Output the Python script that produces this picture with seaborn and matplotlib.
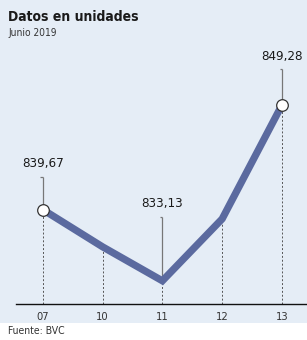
import matplotlib
matplotlib.use("Agg")
import matplotlib.pyplot as plt
import matplotlib.patches as mpatches
import seaborn as sns
import pandas as pd

days = ["07", "10", "11", "12", "13"]
values = [839.67, 836.25, 833.13, 838.82, 849.28]
labels = {0: "839,67", 2: "833,13", 4: "849,28"}
label_offset = [3.6, None, 6.5, None, 3.9]

sns.set_theme(style="white")
plt.rcParams["font.family"] = ["DejaVu Sans"]
plt.rcParams["font.stretch"] = "condensed"

BG = "#e5edf6"
LINE = "#5b6a9f"

fig = plt.figure(figsize=(3.07, 3.40), dpi=100, facecolor="white")
fig.patches.append(mpatches.Rectangle((0, 17 / 340), 1, 1 - 17 / 340, transform=fig.transFigure,
                                      facecolor=BG, edgecolor="none", zorder=-10))
ax = fig.add_axes([16 / 307, 36 / 340, 1 - 16 / 307, (304 - 45) / 340])
ax.set_facecolor("none")

df = pd.DataFrame({"x": range(len(days)), "v": values})
sns.lineplot(data=df, x="x", y="v", ax=ax, color=LINE, linewidth=5.2, solid_capstyle="butt",
             solid_joinstyle="miter", zorder=3)

ymin, ymax = 831.0, 854.8
ax.set_ylim(ymin, ymax)
ax.set_xlim(-0.45, 4.42)

for i, v in enumerate(values):
    ax.vlines(i, ymin, v, colors="#555555", linestyles=(0, (2, 2)), linewidth=0.7, zorder=2)
    if i in labels:
        top = v + label_offset[i]
        ax.vlines(i, v, top - 0.6, colors="#777777", linewidth=0.9, zorder=2)
        ax.hlines(top - 0.6, i - 0.04, i, colors="#777777", linewidth=0.9, zorder=2)
        if i != 2:
            ax.scatter([i], [v], s=70, facecolor="white", edgecolor="#333333", linewidth=0.9, zorder=5)
        ax.text(i, top, labels[i], ha="center", va="bottom", fontsize=9.5, color="#1a1a1a",
                fontstretch="condensed")

for s in ["top", "right", "left"]:
    ax.spines[s].set_visible(False)
ax.spines["bottom"].set_color("#111111")
ax.spines["bottom"].set_linewidth(1.0)
ax.set_xticks(range(len(days)))
ax.set_xticklabels(days, fontsize=8, color="#333333", fontstretch="condensed")
ax.set_yticks([])
ax.tick_params(axis="x", length=0, pad=5.5)
ax.set_xlabel("")
ax.set_ylabel("")

fig.text(8 / 307, 1 - 17 / 340, "Datos en unidades", fontsize=10, fontweight="bold",
         color="#1a1a1a", va="center", ha="left", fontstretch="condensed")
fig.text(8 / 307, 1 - 33 / 340, "Junio 2019", fontsize=7.3, color="#333333", va="center", ha="left",
         fontstretch="condensed")
fig.text(8 / 307, 1 - 331 / 340, "Fuente: BVC", fontsize=7.5, color="#333333", va="center", ha="left",
         fontstretch="condensed")

fig.savefig("out.png", dpi=100, facecolor="white")
